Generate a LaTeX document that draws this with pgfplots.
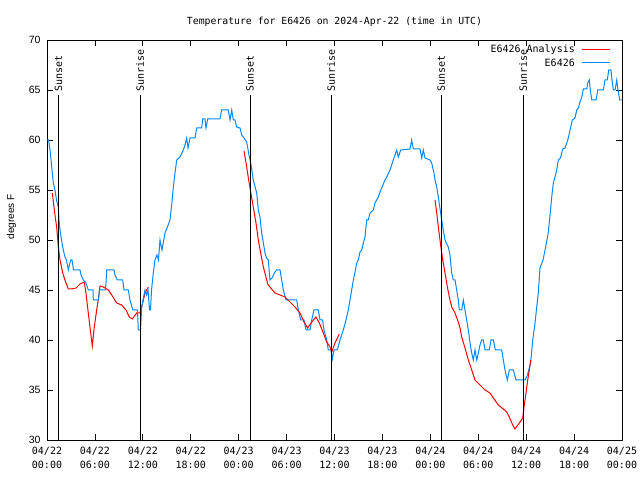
\documentclass[border=0pt]{standalone}
\usepackage{pgfplots}
\pgfplotsset{compat=1.18}
\usepackage{fontspec}
\setmainfont{Liberation Sans}
\newfontfamily\mono{DejaVu Sans Mono}
\definecolor{obsblue}{RGB}{0,136,255}
\definecolor{anared}{RGB}{255,0,0}
\begin{document}
\begin{tikzpicture}
\useasboundingbox (-47bp,-40bp) rectangle (593bp,440bp);
\begin{axis}[
  scale only axis,
  width=575bp, height=400bp,
  xmin=0, xmax=72, ymin=30, ymax=70,
  axis line style={line width=0.8bp},
  xtick={0,6,...,72},
  xticklabels={{04/22\\00:00},{04/22\\06:00},{04/22\\12:00},{04/22\\18:00},{04/23\\00:00},{04/23\\06:00},{04/23\\12:00},{04/23\\18:00},{04/24\\00:00},{04/24\\06:00},{04/24\\12:00},{04/24\\18:00},{04/25\\00:00}},
  xticklabel style={font=\mono\fontsize{10bp}{14bp}\selectfont, align=center, yshift=-4bp},
  ytick={30,35,...,70},
  yticklabel style={font=\fontsize{10.5bp}{12bp}\selectfont, xshift=-3bp},
  /pgf/number format/assume math mode=true,
  tick align=inside,
  major tick length=6bp,
  tick style={black, line width=0.8bp},
  ylabel={degrees F},
  ylabel style={font=\fontsize{10bp}{12bp}\selectfont, at={(axis description cs:-0.0617,0.5575)}, anchor=center},
  title={Temperature for E6426 on 2024-Apr-22 (time in UTC)},
  title style={font=\mono\fontsize{9.8bp}{12bp}\selectfont, at={(axis description cs:0.5,1.03)}, anchor=center, yshift=0pt},
]
% Analysis (red), three segments
\addplot[color=anared, line width=1bp] coordinates {
(0.66,54.7) (1.00,52.5) (1.21,51.3) (1.42,49.3) (1.63,48) (1.97,46.7) (2.25,46) (2.67,45.1) (3.09,45.1) (3.63,45.2) (4.13,45.6) (4.67,45.8) (4.88,44.7) (5.17,42.7) (5.38,41.3) (5.67,39.4) (5.92,41.3) (6.22,43) (6.42,44) (6.64,45.4) (7.05,45.3) (7.68,45) (8.10,44.5) (8.73,43.7) (9.35,43.5) (9.89,43) (10.31,42.3) (10.68,42.1) (11.23,42.7) (11.65,42.7) (11.98,43.7) (12.27,44.7) (12.68,45.3)
};
\addplot[color=obsblue, line width=1bp] coordinates {
(0,60) (0.19,60) (0.38,59) (0.63,57) (0.79,55.7) (1.00,55) (1.19,54) (1.42,53.3) (1.50,52) (1.63,51) (1.82,50) (2.04,49) (2.25,48.3) (2.44,48) (2.67,47) (2.97,48) (3.13,48) (3.32,47) (4.13,47) (4.26,46.5) (4.55,46) (4.88,45.7) (5.17,45) (5.76,45) (5.80,44) (6.45,44) (6.57,45) (7.33,45) (7.48,47) (8.39,47) (8.51,46.5) (8.80,46) (9.48,46) (9.64,45) (10.18,45) (10.39,44) (10.73,43) (11.33,43) (11.43,41) (11.71,41) (11.86,43.3) (12.02,44) (12.27,45) (12.46,44.5) (12.65,45) (12.84,43) (12.96,43) (13.09,45) (13.31,46.7) (13.52,48) (13.77,48.5) (13.96,48) (14.15,50) (14.40,49) (14.78,50.7) (15.03,51.2) (15.40,52) (15.61,53.5) (15.82,55.3) (16.03,56.7) (16.24,58) (16.65,58.3) (17.07,59) (17.28,59.5) (17.49,60.2) (17.66,59.2) (17.91,60.2) (18.53,60.2) (18.75,61.2) (19.37,61.2) (19.50,62.1) (19.78,62.1) (19.91,61.2) (20.12,62.1) (21.66,62.1) (21.87,63) (22.70,63) (22.92,62) (23.13,63) (23.33,62) (23.54,62) (23.75,61.3) (24.17,61.2) (24.38,60.5) (24.67,60.2) (25.01,59.8) (25.29,58.5) (25.51,57.7) (25.83,56) (26.26,54.7) (26.46,53) (26.67,52.3) (26.88,50.7) (27.09,49.7) (27.30,48.7) (27.49,48.2) (27.71,48) (27.92,46) (28.17,46.2) (28.55,46.8) (28.74,47) (29.18,47) (29.39,46) (29.59,45) (29.93,44) (31.27,44) (31.47,43) (31.77,42) (32.18,42) (32.43,41) (32.93,41) (33.15,42) (33.43,43) (33.97,43) (34.19,42) (34.50,42) (34.69,41) (35.02,40) (35.22,39) (35.56,39) (35.73,38.1) (35.94,39) (36.35,39) (36.69,40) (37.10,41) (37.44,42) (37.73,43) (37.94,44) (38.15,45) (38.36,46) (38.57,46.8) (38.78,47.7) (38.98,48) (39.19,48.8) (39.41,49) (39.61,49.7) (39.82,50.3) (40.03,52) (40.23,52) (40.45,52.7) (40.86,53) (41.07,53.7) (41.49,54.3) (41.70,54.8) (41.91,55.2) (42.32,56) (42.54,56.3) (42.95,57) (43.36,58) (43.79,59) (43.99,58.3) (44.29,59) (45.45,59.1) (45.66,60) (45.87,59.1) (46.71,59.1) (46.92,58.2) (47.12,59) (47.33,58.2) (47.96,58) (48.17,57.7) (48.46,56.7) (48.59,56) (48.80,55.3) (49.00,54.3) (49.42,52) (49.62,51) (49.84,50) (50.05,49.6) (50.25,49.3) (50.46,48.5) (50.68,46.7) (50.88,46) (51.09,46) (51.30,45) (51.50,44) (51.63,43) (51.93,43) (52.13,44) (52.34,43) (52.55,42) (52.76,41) (52.97,39.7) (53.18,38.7) (53.38,38) (53.59,39) (53.81,38) (54.01,38.7) (54.22,39.5) (54.43,40) (54.63,40) (54.85,39) (55.38,39) (55.60,40) (55.89,40) (56.14,39) (56.94,39) (57.14,38) (57.35,37) (57.64,36) (57.89,37) (58.39,37) (58.73,36) (59.86,36) (60.07,36.3) (60.27,36.8) (60.57,37.8) (60.82,40) (61.11,41.7) (61.32,43.3) (61.52,44.7) (61.73,47.2) (62.11,48) (62.36,49) (62.73,50.5) (62.99,52.5) (63.20,54.3) (63.40,55.7) (63.61,56.3) (63.82,57) (64.03,58) (64.30,58.2) (64.58,59.1) (64.86,59.2) (65.08,59.7) (65.28,60.2) (65.49,61) (65.78,62) (66.12,62.2) (66.33,63) (66.53,63.2) (66.74,63.8) (66.96,64.3) (67.16,65.1) (67.58,65.1) (67.71,65.7) (67.91,66) (68.03,65) (68.21,64) (68.75,64) (68.96,65) (69.66,65) (69.87,66) (70.16,66) (70.34,67) (70.62,67) (70.75,66) (70.91,65) (71.13,65) (71.34,66) (71.50,65) (71.71,64) (71.94,64)
};
\addplot[color=anared, line width=1bp] coordinates {
(24.67,58.9) (25.01,57.3) (25.21,56.2) (25.51,54.8) (25.83,53.3) (26.17,51.7) (26.46,50) (26.76,48.7) (27.09,47.3) (27.42,46.3) (27.64,45.6) (28.01,45.2) (28.55,44.7) (29.18,44.5) (29.80,44.3) (30.43,43.8) (31.05,43.3) (31.68,42.7) (32.18,41.8) (32.64,41.2) (33.15,41.8) (33.68,42.3) (34.10,41.7) (34.60,40.7) (35.02,39.8) (35.44,39.3) (35.65,38.8) (36.06,39.7) (36.60,40.6)
};
\addplot[color=anared, line width=1bp] coordinates {
(48.59,54) (48.80,52.7) (49.00,51.3) (49.21,50) (49.42,48.7) (49.62,47.7) (49.84,46.7) (50.05,45.7) (50.25,44.8) (50.46,44) (50.68,43.3) (51.09,42.7) (51.50,41.8) (51.72,41.2) (51.93,40.3) (52.34,39.2) (52.76,38) (53.18,37) (53.59,36) (54.22,35.5) (54.85,35) (55.47,34.7) (55.89,34.2) (56.51,33.5) (57.14,33.1) (57.56,32.8) (57.89,32.3) (58.31,31.5) (58.60,31.1) (59.14,31.7) (59.57,32.2) (59.73,33.3) (59.98,34.7) (60.14,35.7) (60.39,37) (60.57,38)
};
% Sunset / Sunrise lines
\addplot[black, line width=1bp] coordinates {(1.45,30) (1.45,64.5)};
\addplot[black, line width=1bp] coordinates {(11.65,30) (11.65,64.5)};
\addplot[black, line width=1bp] coordinates {(25.42,30) (25.42,64.5)};
\addplot[black, line width=1bp] coordinates {(35.58,30) (35.58,64.5)};
\addplot[black, line width=1bp] coordinates {(49.36,30) (49.36,64.5)};
\addplot[black, line width=1bp] coordinates {(59.63,30) (59.63,64.5)};
\node[rotate=90, anchor=west, inner sep=0pt, font=\mono\fontsize{10bp}{12bp}\selectfont] at (axis cs:1.45,64.8) {Sunset};
\node[rotate=90, anchor=west, inner sep=0pt, font=\mono\fontsize{10bp}{12bp}\selectfont] at (axis cs:11.65,64.8) {Sunrise};
\node[rotate=90, anchor=west, inner sep=0pt, font=\mono\fontsize{10bp}{12bp}\selectfont] at (axis cs:25.42,64.8) {Sunset};
\node[rotate=90, anchor=west, inner sep=0pt, font=\mono\fontsize{10bp}{12bp}\selectfont] at (axis cs:35.58,64.8) {Sunrise};
\node[rotate=90, anchor=west, inner sep=0pt, font=\mono\fontsize{10bp}{12bp}\selectfont] at (axis cs:49.36,64.8) {Sunset};
\node[rotate=90, anchor=west, inner sep=0pt, font=\mono\fontsize{10bp}{12bp}\selectfont] at (axis cs:59.63,64.8) {Sunrise};
% Legend (drawn by hand)
\draw[anared, line width=1bp] (axis description cs:0.9304,0.975) -- (axis description cs:0.9791,0.975);
\draw[obsblue, line width=1bp] (axis description cs:0.9304,0.9425) -- (axis description cs:0.9791,0.9425);
\node[anchor=east, inner sep=0pt, font=\mono\fontsize{10bp}{12bp}\selectfont] at (axis description cs:0.9183,0.975) {E6426 Analysis};
\node[anchor=east, inner sep=0pt, font=\mono\fontsize{10bp}{12bp}\selectfont] at (axis description cs:0.9183,0.9425) {E6426};
\end{axis}
\end{tikzpicture}
\end{document}
